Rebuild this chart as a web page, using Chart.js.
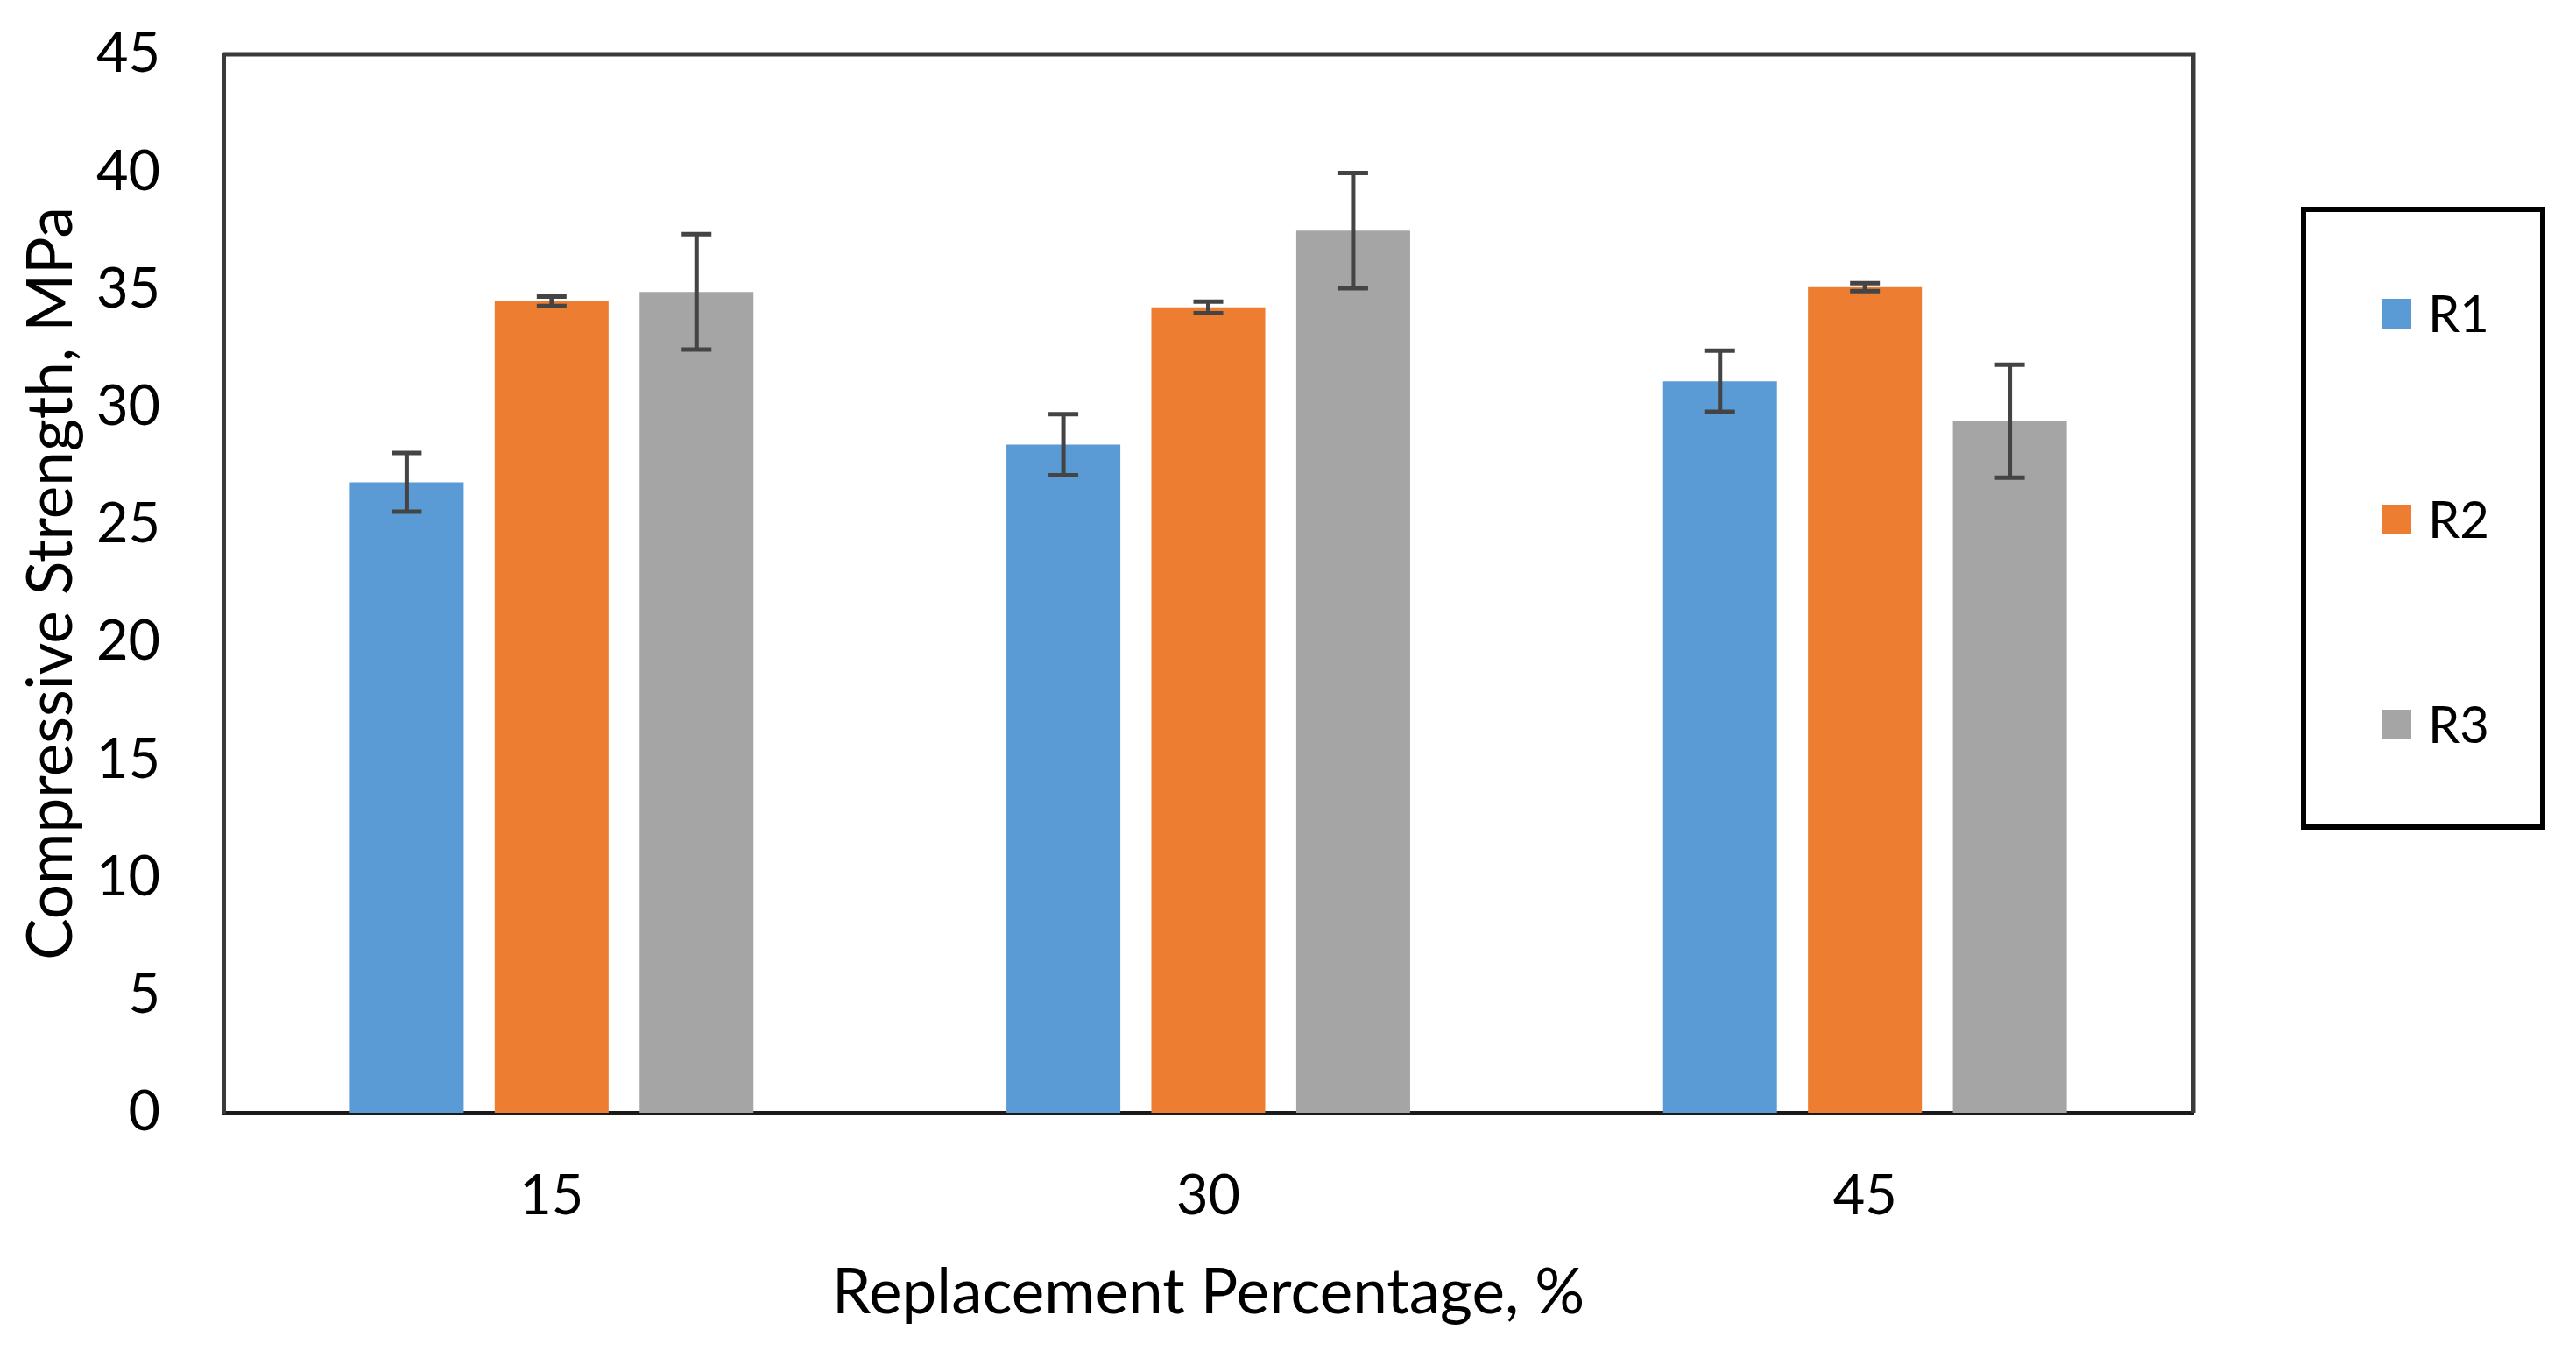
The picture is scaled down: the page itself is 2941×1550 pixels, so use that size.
<!DOCTYPE html>
<html>
<head>
<meta charset="utf-8">
<script src="https://cdn.jsdelivr.net/npm/chart.js@4.4.0/dist/chart.umd.min.js"></script>
<style>
  html, body { margin: 0; padding: 0; background: #fff; }
  #wrap { width: 2941px; height: 1550px; position: relative; }
</style>
</head>
<body>
<div id="wrap"><canvas id="strengthChart"></canvas></div>
<script>
const categories = ['15', '30', '45'];
const seriesNames = ['R1', 'R2', 'R3'];
const r1Values = [26.8, 28.4, 31.1];
const r1Errors = [1.25, 1.3, 1.3];
const r2Values = [34.5, 34.24, 35.1];
const r2Errors = [0.2, 0.25, 0.17];
const r3Values = [34.9, 37.5, 29.4];
const r3Errors = [2.45, 2.45, 2.4];
const yTicks = [0, 5, 10, 15, 20, 25, 30, 35, 40, 45];

const colors = ['#5B9BD5', '#ED7D31', '#A5A5A5'];
const FONT = 'Lato, "Open Sans", sans-serif';

const errorBars = {
  id: 'errorBars',
  afterDatasetsDraw(chart) {
    const ctx = chart.ctx;
    const y = chart.scales.y;
    ctx.save();
    ctx.strokeStyle = '#444444';
    ctx.lineWidth = 5;
    chart.data.datasets.forEach((ds, i) => {
      const meta = chart.getDatasetMeta(i);
      meta.data.forEach((bar, j) => {
        const v = ds.data[j];
        const e = ds.errors[j];
        const top = y.getPixelForValue(v + e);
        const bot = y.getPixelForValue(v - e);
        const half = 17;
        ctx.beginPath();
        ctx.moveTo(bar.x, top);
        ctx.lineTo(bar.x, bot);
        ctx.moveTo(bar.x - half, top);
        ctx.lineTo(bar.x + half, top);
        ctx.moveTo(bar.x - half, bot);
        ctx.lineTo(bar.x + half, bot);
        ctx.stroke();
      });
    });
    ctx.restore();
  },
};

const frame = {
  id: 'frame',
  afterDraw(chart) {
    const ctx = chart.ctx;
    const a = chart.chartArea;
    ctx.save();
    ctx.strokeStyle = '#3a3a3a';
    ctx.lineWidth = 5;
    ctx.beginPath();
    ctx.moveTo(a.left, a.top);
    ctx.lineTo(a.right, a.top);
    ctx.lineTo(a.right, a.bottom);
    ctx.stroke();

    // legend box
    ctx.strokeStyle = '#000';
    ctx.lineWidth = 6;
    ctx.strokeRect(2630, 239, 273, 705);
    const rows = [358, 593, 827];
    ctx.font = '58px ' + FONT;
    ctx.textBaseline = 'middle';
    chart.data.datasets.forEach((ds, i) => {
      ctx.fillStyle = ds.backgroundColor;
      ctx.fillRect(2719, rows[i] - 17, 34, 34);
      ctx.fillStyle = '#000';
      ctx.fillText(ds.label, 2772, rows[i] + 2);
    });
    ctx.restore();
  },
};

const ctx = document.getElementById('strengthChart');

const myChart = new Chart(ctx, {
  type: 'bar',
  data: {
    labels: categories,
    datasets: [
      { label: seriesNames[0], data: r1Values, errors: r1Errors, backgroundColor: colors[0] },
      { label: seriesNames[1], data: r2Values, errors: r2Errors, backgroundColor: colors[1] },
      { label: seriesNames[2], data: r3Values, errors: r3Errors, backgroundColor: colors[2] },
    ],
  },
  options: {
    responsive: true,
    maintainAspectRatio: false,
    animation: false,
    devicePixelRatio: 1,
    categoryPercentage: 0.662,
    barPercentage: 0.786,
    layout: { padding: { left: 0, right: 437, top: 62, bottom: 0 } },
    plugins: {
      legend: { display: false },
      tooltip: { enabled: false },
    },
    scales: {
      x: {
        grid: { display: false },
        border: { display: true, color: '#1a1a1a', width: 5 },
        ticks: { color: '#000', padding: 50, font: { family: FONT, size: 63 } },
        title: {
          display: true,
          text: 'Replacement Percentage, %',
          color: '#000',
          font: { family: FONT, size: 71 },
          padding: { top: 0, bottom: 31 },
        },
        afterFit(scale) {
          scale.height = 280;
          scale.paddingLeft = 0;
          scale.paddingRight = 0;
        },
      },
      y: {
        min: 0,
        max: 45,
        afterBuildTicks(scale) { scale.ticks = yTicks.map((v) => ({ value: v })); },
        grid: { display: false },
        border: { display: true, color: '#3a3a3a', width: 5 },
        ticks: { color: '#000', padding: 64, font: { family: FONT, size: 63 } },
        title: {
          display: true,
          text: 'Compressive Strength, MPa',
          color: '#000',
          font: { family: FONT, size: 71 },
          padding: { top: 17, bottom: 0 },
        },
        afterFit(scale) {
          scale.width = 255;
          scale.paddingTop = 0;
          scale.paddingBottom = 0;
        },
      },
    },
  },
  plugins: [errorBars, frame],
});
</script>
</body>
</html>
